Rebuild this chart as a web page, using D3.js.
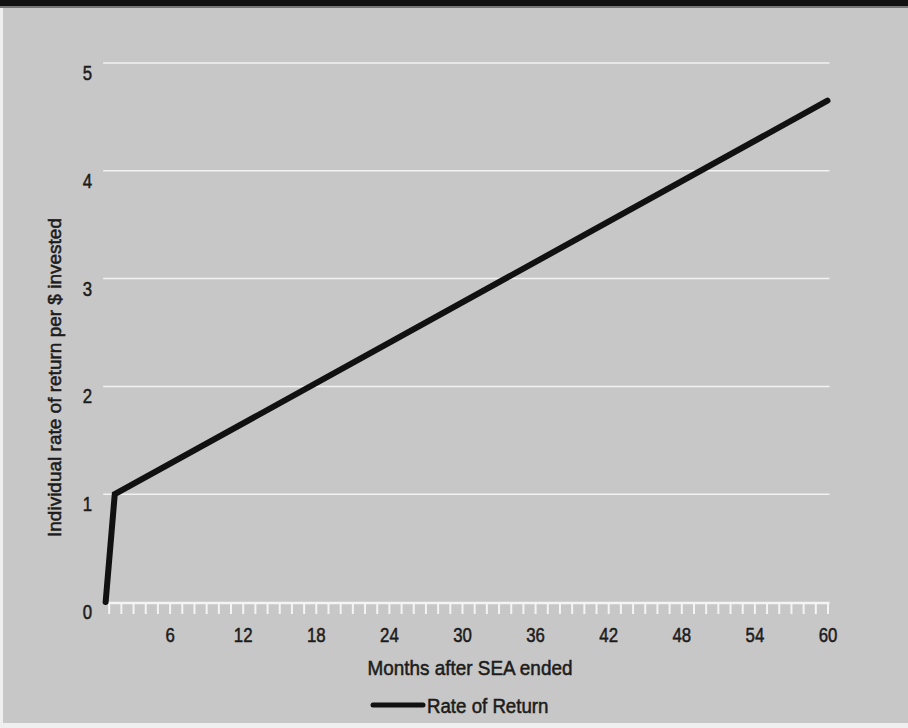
<!DOCTYPE html>
<html>
<head>
<meta charset="utf-8">
<script src="https://cdn.jsdelivr.net/npm/d3@7"></script>
<style>
  html, body { margin: 0; padding: 0; background: #efefef; }
  svg { display: block; }
  text { font-family: "Liberation Sans", Arial, sans-serif; fill: #1c1c1c; stroke: #1c1c1c; stroke-width: 0.55px; }
</style>
</head>
<body>
<svg id="chart" width="908" height="728"></svg>
<script>
// Rate of return after the SEA ended
const months = [0.75, 1.5, 60];
const rateOfReturn = [0, 1, 4.65];
const yTicks = [0, 1, 2, 3, 4, 5];
const xTickLabels = [6, 12, 18, 24, 30, 36, 42, 48, 54, 60];
const seriesName = "Rate of Return";
const xTitle = "Months after SEA ended";
const yTitle = "Individual rate of return per $ invested";

const W = 908, H = 728;
const svg = d3.select("#chart");

// Panel background
svg.append("rect").attr("x", 0).attr("y", 0).attr("width", W).attr("height", H).attr("fill", "#efefef");
svg.append("rect").attr("x", 3).attr("y", 0).attr("width", W - 3).attr("height", 723).attr("fill", "#c7c7c7");
svg.append("rect").attr("x", 0).attr("y", 0).attr("width", W).attr("height", 6).attr("fill", "#111");
svg.append("rect").attr("x", 0).attr("y", 6).attr("width", W).attr("height", 2).attr("fill", "#777");

const x = d3.scaleLinear().domain([0, 60]).range([96.5, 827.5]);
const y = d3.scaleLinear().domain([0, 5]).range([602, 63]);

const gridX0 = x(0.55), gridX1 = x(60) + 2;

// Condensed look: narrow the glyphs horizontally around the anchor point
function condensed(g, str, size, sx, anchor) {
  return g.append("text")
    .attr("transform", `scale(${sx},1)`)
    .attr("text-anchor", anchor)
    .attr("font-size", size)
    .text(str);
}

// Horizontal gridlines
svg.append("g")
  .selectAll("line")
  .data(yTicks.filter(d => d > 0))
  .join("line")
  .attr("x1", gridX0).attr("x2", gridX1)
  .attr("y1", d => y(d)).attr("y2", d => y(d))
  .attr("stroke", "#f2f2f2").attr("stroke-width", 1.5);

// Y tick labels, set just below each gridline
svg.append("g")
  .selectAll("g")
  .data(yTicks)
  .join("g")
  .attr("transform", d => `translate(92,${y(d) + 17})`)
  .each(function (d) { condensed(d3.select(this), d, 21, 0.8, "end"); });

// X axis: white baseline with a tick for every month
const xAxis = d3.axisBottom(x)
  .tickValues(d3.range(1, 61))
  .tickSize(12)
  .tickSizeOuter(0)
  .tickPadding(13)
  .tickFormat(d => xTickLabels.includes(d) ? d : "");

const gx = svg.append("g").attr("transform", `translate(0,${y(0)})`).call(xAxis);
gx.select(".domain").remove();
gx.selectAll(".tick line").attr("stroke", "#f4f4f4").attr("stroke-width", 2);
gx.selectAll(".tick text")
  .attr("font-size", 21)
  .attr("transform", "scale(0.8,1)");
gx.attr("font-family", null);
svg.append("line")
  .attr("x1", gridX0).attr("x2", gridX1)
  .attr("y1", y(0) + 1).attr("y2", y(0) + 1)
  .attr("stroke", "#f4f4f4").attr("stroke-width", 2.5);

// Axis titles
const xt = svg.append("g").attr("transform", `translate(${(x(0) + x(60)) / 2 + 8},675)`);
condensed(xt, xTitle, 21, 0.9, "middle");

const yt = svg.append("g").attr("transform", `translate(61,${(y(0) + y(5)) / 2 + 45}) rotate(-90)`);
condensed(yt, yTitle, 19, 1.0, "middle");

// Series line
const points = months.map((m, i) => ({ m, v: rateOfReturn[i] }));
svg.append("path")
  .datum(points)
  .attr("fill", "none")
  .attr("stroke", "#111")
  .attr("stroke-width", 6)
  .attr("stroke-linejoin", "miter")
  .attr("stroke-linecap", "round")
  .attr("d", d3.line().x(d => x(d.m)).y(d => y(d.v)));

// Legend
const lg = svg.append("g").attr("transform", "translate(373,705)");
lg.append("line").attr("x1", 0).attr("x2", 50).attr("y1", 0).attr("y2", 0)
  .attr("stroke", "#111").attr("stroke-width", 5).attr("stroke-linecap", "round");
const lt = lg.append("g").attr("transform", "translate(54,7.5)");
condensed(lt, seriesName, 21, 0.89, "start");
</script>
</body>
</html>
